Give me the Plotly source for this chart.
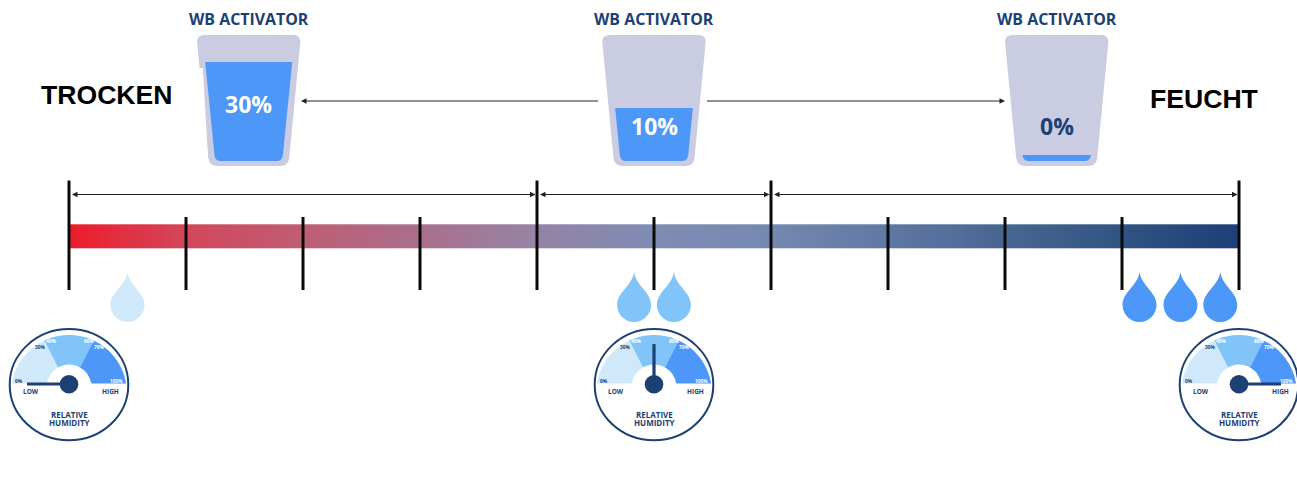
import numpy as np
import plotly.graph_objects as go

# ---------- data ----------
humidity_ticks = [0, 10, 20, 30, 40, 50, 60, 70, 80, 90, 100]
major_ticks = [0, 40, 60, 100]
bar_stops = [0, 10, 20, 30, 40, 50, 60, 70, 80, 90, 100]
bar_colors = ["#ED1C2A", "#D2465A", "#BE5E74", "#A96F8C", "#9583A6", "#7F8CB4", "#7589B0",
              "#5F78A3", "#486692", "#315483", "#1B3F77"]
activator_titles = ["WB ACTIVATOR", "WB ACTIVATOR", "WB ACTIVATOR"]
activator_fill = [30, 10, 0]
activator_labels = ["30%", "10%", "0%"]
scale_words = ["TROCKEN", "FEUCHT"]
gauge_humidity = [0, 50, 100]
gauge_tick_labels = ["0%", "30%", "40%", "60%", "70%", "100%"]
gauge_words = ["LOW", "HIGH", "RELATIVE", "HUMIDITY"]
drop_groups = [[5], [48.3, 51.7], [91.5, 95, 98.4]]

# ---------- layout constants (pixels of the 1297x483 picture) ----------
W, H = 1297, 483
NAVY = "#1C3F74"
LIGHT, MID, DARK = "#CFE9FB", "#80C4FA", "#4C97F7"
CUP = "#CACDE1"
X0, UNIT = 69.0, 11.7
FONT = "Open Sans"


def hx(h):
    return X0 + UNIT * h


shapes = []
ann = []


def add_path(d, color, line=None):
    shapes.append(dict(type="path", path=d, fillcolor=color, xref="x2", yref="y",
                       line=dict(width=0) if line is None else line, layer="above"))


def text(x, y, s, size, color, family=FONT, bold=True):
    ann.append(dict(x=x, y=y, xref="x2", yref="y", text=f"<b>{s}</b>" if bold else s,
                    showarrow=False, xanchor="center", yanchor="middle",
                    font=dict(size=size, color=color, family=family)))


def arrow(x1, x2, y, both=False):
    ann.append(dict(x=x2, y=y, ax=x1, ay=y, xref="x2", yref="y", axref="x2", ayref="y",
                    text="", showarrow=True, arrowhead=2, arrowsize=1.1, arrowwidth=1,
                    arrowcolor="#222222", startarrowhead=2, startarrowsize=1.1,
                    arrowside="end+start" if both else "end"))


# ---------- cups ----------
cup_centres = [248.7, 654.0, 1056.7]
cup_level_px = np.interp(activator_fill, [0, 10, 30], [155, 108, 62])


def half_width(y):
    return 33.5 + (161 - y) * 10 / 99


for cx, title, lab, top, fill in zip(cup_centres, activator_titles, activator_labels,
                                     cup_level_px, activator_fill):
    text(cx, 19, title, 15.9, NAVY)
    l, r = cx - 51.7, cx + 51.7
    bl, br = cx - 39.5, cx + 39.5
    add_path(f"M{l+7},35 L{r-7},35 Q{r},35 {r},42 L{br+1},158 Q{br},166 {br-8},166 "
             f"L{bl+8},166 Q{bl},166 {bl-1},158 L{l},42 Q{l},35 {l+7},35 Z", CUP)
    if fill == 30:
        add_path(f"M{l+2},68 L{l+5.8},68 L{bl-1},160 L{bl-2},160 Z", "#FFFFFF")
    hw = half_width(top)
    add_path(f"M{cx-hw},{top} L{cx+hw},{top} L{cx+34.2},155 Q{cx+33.5},161 {cx+28},161 "
             f"L{cx-28},161 Q{cx-33.5},161 {cx-34.2},155 Z", DARK)
    y_lab = 103.5 if fill == 30 else 125.5
    text(cx, y_lab, lab, 23, "#FFFFFF" if fill > 0 else NAVY)

arrow(599.5, 301, 101)
arrow(705.5, 1005, 101)
for a, b in [(0, 40), (40, 60), (60, 100)]:
    arrow(hx(a) + 1.5, hx(b) - 1.5, 194.5, both=True)

text(107, 95, scale_words[0], 26.6, "#000000", "Liberation Sans")
text(1204, 99, scale_words[1], 26.6, "#000000", "Liberation Sans")

# ---------- drops ----------
for group, color in zip(drop_groups, [LIGHT, MID, DARK]):
    for h in group:
        c = hx(h)
        add_path(f"M{c},272 C{c+2},286 {c+17},292 {c+17},305 C{c+17},314.4 {c+9.4},322 {c},322 "
                 f"C{c-9.4},322 {c-17},314.4 {c-17},305 C{c-17},292 {c-2},286 {c},272 Z", color)


# ---------- gauges ----------
def arc_points(dx1, dx2):
    ycen, R = 392.8, 57.8
    xs = np.linspace(dx1, dx2, 30)
    ys = ycen - np.sqrt(R * R - xs * xs)
    return list(zip(xs, ys))


for g in gauge_humidity:
    c = hx(g)
    shapes.append(dict(type="circle", xref="x2", yref="y", x0=c - 59.3, x1=c + 59.3, y0=329.1,
                       y1=440.3, line=dict(color=NAVY, width=2), fillcolor="#FFFFFF", layer="above"))
    left = [(-12.3, 365), (-24.7, 340.2)] + arc_points(-24.7, -57) + [(-57, 383.5), (0, 383.5)]
    midd = [(-12.3, 365), (-24.7, 340.2)] + arc_points(-24.7, 24.7) + [(12.3, 365), (0, 383.5)]
    right = [(12.3, 365), (24.7, 340.2)] + arc_points(24.7, 57) + [(57, 383.5), (0, 383.5)]
    for pts, col in [(left, LIGHT), (midd, MID), (right, DARK)]:
        add_path("M" + " L".join(f"{c+x:.2f},{y:.2f}" for x, y in pts) + " Z", col)
    shapes.append(dict(type="circle", xref="x2", yref="y", x0=c - 22.5, x1=c + 22.5, y0=364.5,
                       y1=409.5, fillcolor="#FFFFFF", line=dict(width=0), layer="above"))
    add_path(f"M{c-23},383.5 L{c+23},383.5 L{c+23},412 L{c-23},412 Z", "#FFFFFF")
    ang = np.pi * (1 - g / 100)
    ln = 42
    shapes.append(dict(type="line", xref="x2", yref="y", x0=c, y0=384,
                       x1=c + ln * np.cos(ang), y1=384 - ln * np.sin(ang) * 0.95,
                       line=dict(color=NAVY, width=3.2), layer="above"))
    shapes.append(dict(type="circle", xref="x2", yref="y", x0=c - 9.3, x1=c + 9.3, y0=375, y1=393.5,
                       fillcolor=NAVY, line=dict(width=0), layer="above"))
    tick_pos = [(-50, 381, NAVY), (-29, 346.7, NAVY), (-18.3, 340.7, "#FFFFFF"),
                (19.6, 340.7, "#FFFFFF"), (30.3, 346.7, "#FFFFFF"), (47.5, 381, "#FFFFFF")]
    for lab, (dx, y, col) in zip(gauge_tick_labels, tick_pos):
        text(c + dx, y, lab, 4.8, col)
    text(c - 38.5, 391.5, gauge_words[0], 6.5, NAVY)
    text(c + 41, 391.5, gauge_words[1], 6.5, NAVY)
    text(c, 414.6, gauge_words[2], 8, NAVY)
    text(c, 422.8, gauge_words[3], 8, NAVY)

# ---------- traces ----------
grid = np.arange(0, 100.25, 0.5)
fig = go.Figure()
fig.add_trace(go.Heatmap(
    x=grid, y=[224.3, 248.3], z=[(grid[:-1] + 0.25).tolist()], zmin=0, zmax=100, showscale=False,
    hoverinfo="skip",
    colorscale=[[s / 100, col] for s, col in zip(bar_stops, bar_colors)]))
for t in humidity_ticks:
    top = 180.5 if t in major_ticks else 217
    fig.add_trace(go.Scatter(x=[t, t], y=[top, 290], mode="lines", hoverinfo="skip",
                             line=dict(color="#0A0A0A", width=3), showlegend=False))
# invisible trace that keeps the pixel axis active
fig.add_trace(go.Scatter(x=[0, W], y=[0, H], xaxis="x2", mode="markers",
                         marker=dict(opacity=0), hoverinfo="skip", showlegend=False))

fig.update_layout(
    width=W, height=H, autosize=False, margin=dict(l=0, r=0, t=0, b=0),
    paper_bgcolor="#FFFFFF", plot_bgcolor="#FFFFFF", showlegend=False,
    xaxis=dict(range=[(0 - X0) / UNIT, (W - X0) / UNIT], visible=False, fixedrange=True),
    xaxis2=dict(range=[0, W], overlaying="x", visible=False, fixedrange=True),
    yaxis=dict(range=[H, 0], visible=False, fixedrange=True),
    shapes=shapes, annotations=ann)
fig.write_html("out.html", config=dict(displayModeBar=False),
               post_script="document.body.style.margin='0';document.documentElement.style.overflow='hidden';")
